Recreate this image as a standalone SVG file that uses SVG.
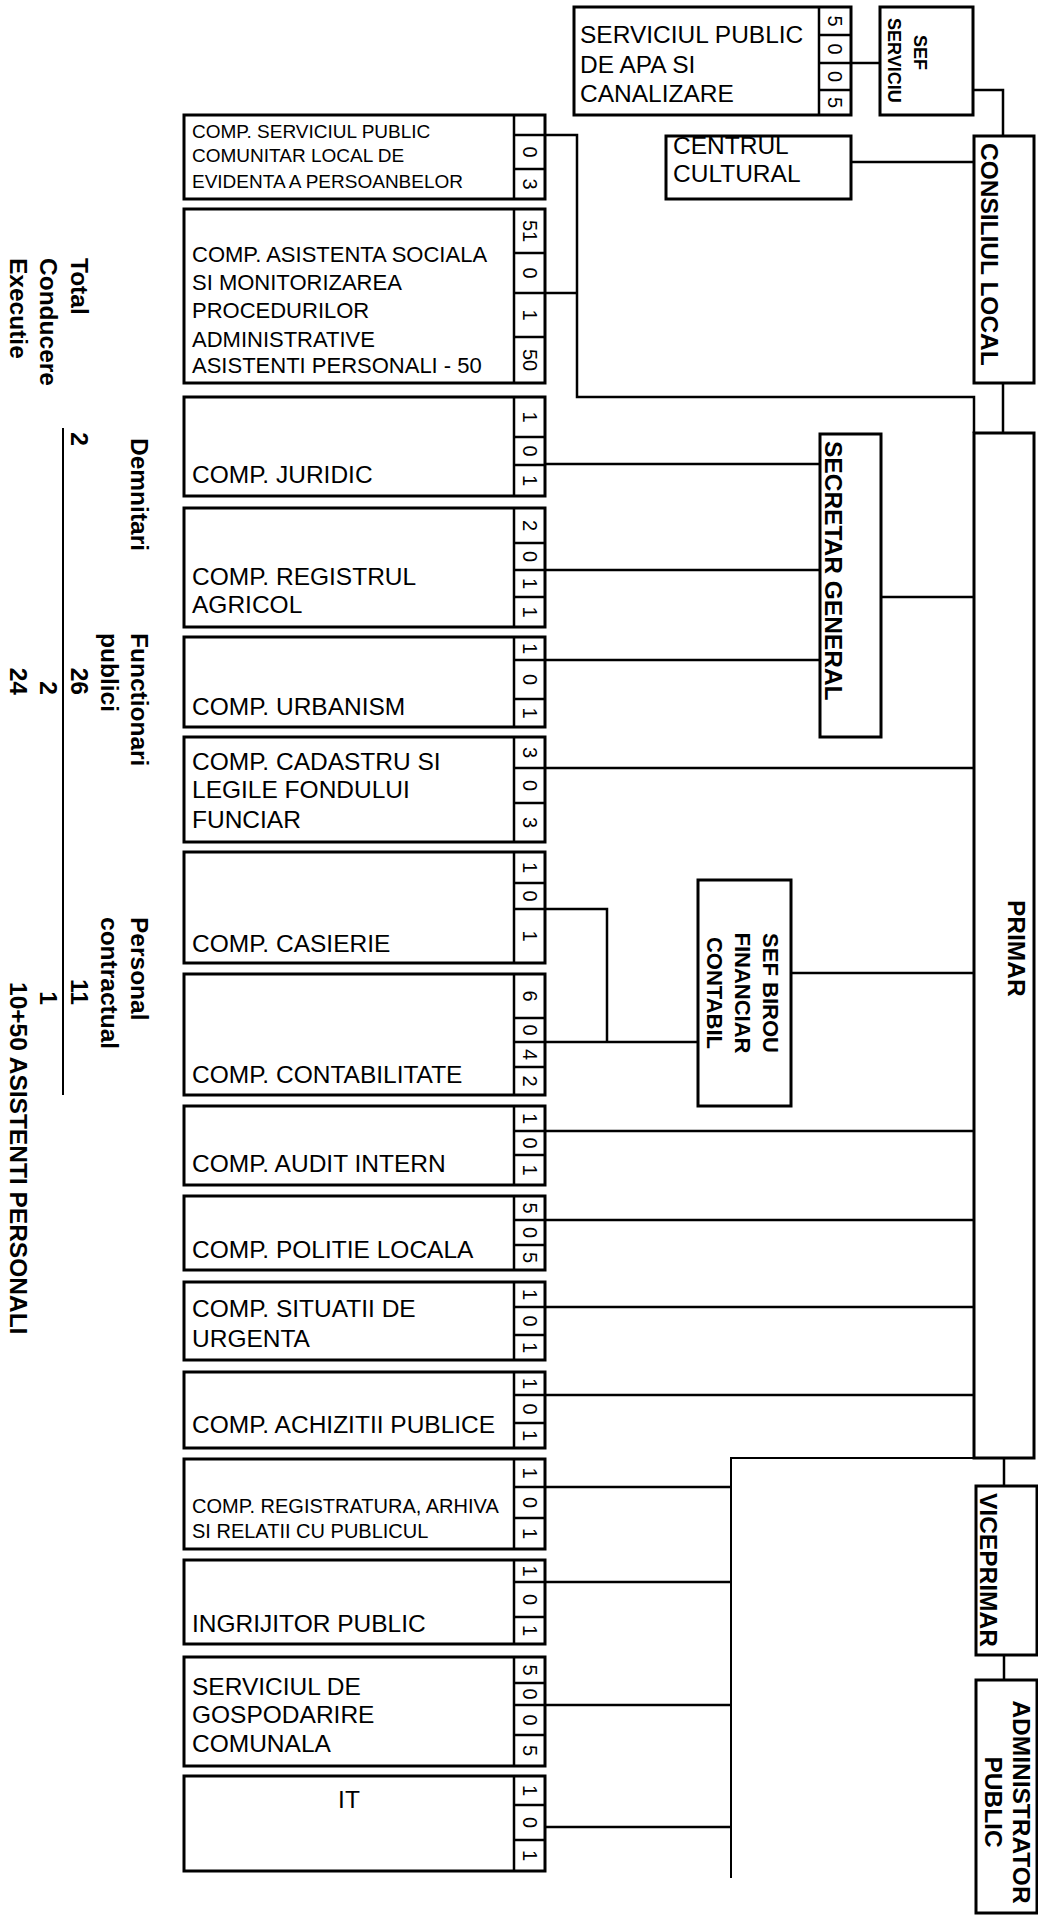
<svg xmlns="http://www.w3.org/2000/svg" width="1038" height="1917" viewBox="0 0 1038 1917">
<style>
.bx{fill:#fff;stroke:#000;stroke-width:3}
.ln{fill:none;stroke:#000;stroke-width:2.5}
.cn{fill:none;stroke:#000;stroke-width:2.5}
.t{font-family:"Liberation Sans",Arial,sans-serif;font-size:24.5px;fill:#000}
.s19{font-size:19px}
.s20{font-size:20px}
.s22{font-size:22px}
.b{font-weight:bold}
.d{font-family:"Liberation Sans",Arial,sans-serif;font-size:20px;fill:#000;text-anchor:middle}
.m{text-anchor:middle}
.e{text-anchor:end}
</style>
<rect width="1038" height="1917" fill="#fff"/>

<g id="connectors">
<path class="cn" d="M851,63 H880"/>
<path class="cn" d="M973,90 H1003 V136"/>
<path class="cn" d="M851,162 H974"/>
<path class="cn" d="M1003,383 V433"/>
<path class="cn" d="M545,135 H577 V397 H974 V433"/>
<path class="cn" d="M545,293 H577"/>
<path class="cn" d="M545,464 H820"/>
<path class="cn" d="M545,570 H820"/>
<path class="cn" d="M545,660 H820"/>
<path class="cn" d="M881,597 H974"/>
<path class="cn" d="M545,768 H974"/>
<path class="cn" d="M545,909 H607 V1042"/>
<path class="cn" d="M545,1042 H698"/>
<path class="cn" d="M791,973 H974"/>
<path class="cn" d="M545,1131 H974"/>
<path class="cn" d="M545,1220 H974"/>
<path class="cn" d="M545,1307 H974"/>
<path class="cn" d="M545,1395 H974"/>
<path class="cn" d="M974,1458 H731 V1878" style="stroke-width:2"/>
<path class="cn" d="M545,1487 H731"/>
<path class="cn" d="M545,1582 H731"/>
<path class="cn" d="M545,1705 H731"/>
<path class="cn" d="M545,1827 H731"/>
<path class="cn" d="M1004,1458 V1486"/>
<path class="cn" d="M1004,1655 V1680"/>
</g>

<g id="serviciul-apa">
<rect class="bx" x="574" y="7" width="277" height="108"/>
<path class="ln" d="M819,7 V115 M819,35 H851 M819,63 H851 M819,90 H851"/>
<text class="t" x="580" y="43">SERVICIUL PUBLIC</text>
<text class="t" x="580" y="73">DE APA SI</text>
<text class="t" x="580" y="102">CANALIZARE</text>
<text class="d" transform="translate(835,21) rotate(90)" dy="7">5</text>
<text class="d" transform="translate(835,49) rotate(90)" dy="7">0</text>
<text class="d" transform="translate(835,76.5) rotate(90)" dy="7">0</text>
<text class="d" transform="translate(835,102.5) rotate(90)" dy="7">5</text>
</g>

<g id="sef-serviciu">
<rect class="bx" x="880" y="7" width="93" height="108"/>
<text class="t b" style="font-size:18px" transform="translate(914,35) rotate(90)">SEF</text>
<text class="t b" style="font-size:18px" transform="translate(888,18) rotate(90)">SERVICIU</text>
</g>

<g id="centrul-cultural">
<rect class="bx" x="666" y="136" width="185" height="63"/>
<text class="t" x="673" y="154">CENTRUL</text>
<text class="t" x="673" y="182">CULTURAL</text>
</g>

<g id="consiliul-local">
<rect class="bx" x="974" y="136" width="60" height="247"/>
<text class="t b" transform="translate(981,143) rotate(90)">CONSILIUL LOCAL</text>
</g>

<g id="primar">
<rect class="bx" x="974" y="433" width="60" height="1025"/>
<text class="t b" transform="translate(1008,900) rotate(90)">PRIMAR</text>
</g>

<g id="secretar-general">
<rect class="bx" x="820" y="434" width="61" height="303"/>
<text class="t b" transform="translate(825,441) rotate(90)">SECRETAR GENERAL</text>
</g>

<g id="sef-birou">
<rect class="bx" x="698" y="880" width="93" height="226"/>
<text class="t b s22 m" transform="translate(763,993) rotate(90)">SEF BIROU</text>
<text class="t b s22 m" transform="translate(735,993) rotate(90)">FINANCIAR</text>
<text class="t b s22 m" transform="translate(707,993) rotate(90)">CONTABIL</text>
</g>

<g id="viceprimar">
<rect class="bx" x="976" y="1486" width="61" height="169"/>
<text class="t b" transform="translate(980,1493) rotate(90)">VICEPRIMAR</text>
</g>

<g id="administrator-public">
<rect class="bx" x="976" y="1680" width="61" height="233"/>
<text class="t b m" transform="translate(1013,1802) rotate(90)">ADMINISTRATOR</text>
<text class="t b m" transform="translate(985,1802) rotate(90)">PUBLIC</text>
</g>

<g id="comp-evidenta">
<rect class="bx" x="184" y="115" width="361" height="84"/>
<path class="ln" d="M514,115 V199 M514,135 H545 M514,169 H545"/>
<text class="t s19" x="192" y="138">COMP. SERVICIUL PUBLIC</text>
<text class="t s19" x="192" y="162">COMUNITAR LOCAL DE</text>
<text class="t s19" x="192" y="188">EVIDENTA A PERSOANBELOR</text>
<text class="d" transform="translate(529.5,152) rotate(90)" dy="7">0</text>
<text class="d" transform="translate(529.5,184) rotate(90)" dy="7">3</text>
</g>

<g id="comp-asistenta">
<rect class="bx" x="184" y="209" width="361" height="174"/>
<path class="ln" d="M514,209 V383 M514,253 H545 M514,293 H545 M514,337 H545"/>
<text class="t s22" x="192" y="262">COMP. ASISTENTA SOCIALA</text>
<text class="t s22" x="192" y="290">SI MONITORIZAREA</text>
<text class="t s22" x="192" y="318">PROCEDURILOR</text>
<text class="t s22" x="192" y="347">ADMINISTRATIVE</text>
<text class="t s22" x="192" y="373">ASISTENTI PERSONALI - 50</text>
<text class="d" transform="translate(529.5,231) rotate(90)" dy="7">51</text>
<text class="d" transform="translate(529.5,273) rotate(90)" dy="7">0</text>
<text class="d" transform="translate(529.5,315) rotate(90)" dy="7">1</text>
<text class="d" transform="translate(529.5,360) rotate(90)" dy="7">50</text>
</g>

<g id="comp-juridic">
<rect class="bx" x="184" y="397" width="361" height="99"/>
<path class="ln" d="M514,397 V496 M514,437 H545 M514,465 H545"/>
<text class="t" x="192" y="483">COMP. JURIDIC</text>
<text class="d" transform="translate(529.5,417) rotate(90)" dy="7">1</text>
<text class="d" transform="translate(529.5,451) rotate(90)" dy="7">0</text>
<text class="d" transform="translate(529.5,480.5) rotate(90)" dy="7">1</text>
</g>

<g id="comp-registrul-agricol">
<rect class="bx" x="184" y="508" width="361" height="119"/>
<path class="ln" d="M514,508 V627 M514,543 H545 M514,570 H545 M514,597 H545"/>
<text class="t" x="192" y="585">COMP. REGISTRUL</text>
<text class="t" x="192" y="613">AGRICOL</text>
<text class="d" transform="translate(529.5,525.5) rotate(90)" dy="7">2</text>
<text class="d" transform="translate(529.5,556.5) rotate(90)" dy="7">0</text>
<text class="d" transform="translate(529.5,583.5) rotate(90)" dy="7">1</text>
<text class="d" transform="translate(529.5,612) rotate(90)" dy="7">1</text>
</g>

<g id="comp-urbanism">
<rect class="bx" x="184" y="637" width="361" height="90"/>
<path class="ln" d="M514,637 V727 M514,660 H545 M514,699 H545"/>
<text class="t" x="192" y="715">COMP. URBANISM</text>
<text class="d" transform="translate(529.5,648.5) rotate(90)" dy="7">1</text>
<text class="d" transform="translate(529.5,679.5) rotate(90)" dy="7">0</text>
<text class="d" transform="translate(529.5,713) rotate(90)" dy="7">1</text>
</g>

<g id="comp-cadastru">
<rect class="bx" x="184" y="737" width="361" height="105"/>
<path class="ln" d="M514,737 V842 M514,768 H545 M514,803 H545"/>
<text class="t" x="192" y="770">COMP. CADASTRU SI</text>
<text class="t" x="192" y="798">LEGILE FONDULUI</text>
<text class="t" x="192" y="828">FUNCIAR</text>
<text class="d" transform="translate(529.5,752.5) rotate(90)" dy="7">3</text>
<text class="d" transform="translate(529.5,785.5) rotate(90)" dy="7">0</text>
<text class="d" transform="translate(529.5,822.5) rotate(90)" dy="7">3</text>
</g>

<g id="comp-casierie">
<rect class="bx" x="184" y="852" width="361" height="111"/>
<path class="ln" d="M514,852 V963 M514,883 H545 M514,909 H545"/>
<text class="t" x="192" y="952">COMP. CASIERIE</text>
<text class="d" transform="translate(529.5,867.5) rotate(90)" dy="7">1</text>
<text class="d" transform="translate(529.5,896) rotate(90)" dy="7">0</text>
<text class="d" transform="translate(529.5,936) rotate(90)" dy="7">1</text>
</g>

<g id="comp-contabilitate">
<rect class="bx" x="184" y="974" width="361" height="121"/>
<path class="ln" d="M514,974 V1095 M514,1018 H545 M514,1042 H545 M514,1067 H545"/>
<text class="t" x="192" y="1083">COMP. CONTABILITATE</text>
<text class="d" transform="translate(529.5,996) rotate(90)" dy="7">6</text>
<text class="d" transform="translate(529.5,1030) rotate(90)" dy="7">0</text>
<text class="d" transform="translate(529.5,1054.5) rotate(90)" dy="7">4</text>
<text class="d" transform="translate(529.5,1081) rotate(90)" dy="7">2</text>
</g>

<g id="comp-audit">
<rect class="bx" x="184" y="1106" width="361" height="79"/>
<path class="ln" d="M514,1106 V1185 M514,1131 H545 M514,1155 H545"/>
<text class="t" x="192" y="1172">COMP. AUDIT INTERN</text>
<text class="d" transform="translate(529.5,1118.5) rotate(90)" dy="7">1</text>
<text class="d" transform="translate(529.5,1143) rotate(90)" dy="7">0</text>
<text class="d" transform="translate(529.5,1170) rotate(90)" dy="7">1</text>
</g>

<g id="comp-politie">
<rect class="bx" x="184" y="1196" width="361" height="74"/>
<path class="ln" d="M514,1196 V1270 M514,1220 H545 M514,1245 H545"/>
<text class="t" x="192" y="1258">COMP. POLITIE LOCALA</text>
<text class="d" transform="translate(529.5,1208) rotate(90)" dy="7">5</text>
<text class="d" transform="translate(529.5,1232.5) rotate(90)" dy="7">0</text>
<text class="d" transform="translate(529.5,1257.5) rotate(90)" dy="7">5</text>
</g>

<g id="comp-situatii">
<rect class="bx" x="184" y="1282" width="361" height="78"/>
<path class="ln" d="M514,1282 V1360 M514,1307 H545 M514,1335 H545"/>
<text class="t" x="192" y="1317">COMP. SITUATII DE</text>
<text class="t" x="192" y="1347">URGENTA</text>
<text class="d" transform="translate(529.5,1294.5) rotate(90)" dy="7">1</text>
<text class="d" transform="translate(529.5,1321) rotate(90)" dy="7">0</text>
<text class="d" transform="translate(529.5,1347.5) rotate(90)" dy="7">1</text>
</g>

<g id="comp-achizitii">
<rect class="bx" x="184" y="1372" width="361" height="76"/>
<path class="ln" d="M514,1372 V1448 M514,1395 H545 M514,1423 H545"/>
<text class="t" x="192" y="1433">COMP. ACHIZITII PUBLICE</text>
<text class="d" transform="translate(529.5,1383.5) rotate(90)" dy="7">1</text>
<text class="d" transform="translate(529.5,1409) rotate(90)" dy="7">0</text>
<text class="d" transform="translate(529.5,1435.5) rotate(90)" dy="7">1</text>
</g>

<g id="comp-registratura">
<rect class="bx" x="184" y="1459" width="361" height="90"/>
<path class="ln" d="M514,1459 V1549 M514,1487 H545 M514,1518 H545"/>
<text class="t s20" x="192" y="1513">COMP. REGISTRATURA, ARHIVA</text>
<text class="t s20" x="192" y="1538">SI RELATII CU PUBLICUL</text>
<text class="d" transform="translate(529.5,1473) rotate(90)" dy="7">1</text>
<text class="d" transform="translate(529.5,1502.5) rotate(90)" dy="7">0</text>
<text class="d" transform="translate(529.5,1533.5) rotate(90)" dy="7">1</text>
</g>

<g id="ingrijitor-public">
<rect class="bx" x="184" y="1560" width="361" height="84"/>
<path class="ln" d="M514,1560 V1644 M514,1582 H545 M514,1617 H545"/>
<text class="t" x="192" y="1632">INGRIJITOR PUBLIC</text>
<text class="d" transform="translate(529.5,1571) rotate(90)" dy="7">1</text>
<text class="d" transform="translate(529.5,1599.5) rotate(90)" dy="7">0</text>
<text class="d" transform="translate(529.5,1630.5) rotate(90)" dy="7">1</text>
</g>

<g id="serviciul-gospodarire">
<rect class="bx" x="184" y="1657" width="361" height="109"/>
<path class="ln" d="M514,1657 V1766 M514,1683 H545 M514,1705 H545 M514,1735 H545"/>
<text class="t" x="192" y="1695">SERVICIUL DE</text>
<text class="t" x="192" y="1723">GOSPODARIRE</text>
<text class="t" x="192" y="1752">COMUNALA</text>
<text class="d" transform="translate(529.5,1670) rotate(90)" dy="7">5</text>
<text class="d" transform="translate(529.5,1694) rotate(90)" dy="7">0</text>
<text class="d" transform="translate(529.5,1720) rotate(90)" dy="7">0</text>
<text class="d" transform="translate(529.5,1750.5) rotate(90)" dy="7">5</text>
</g>

<g id="it">
<rect class="bx" x="184" y="1776" width="361" height="95"/>
<path class="ln" d="M514,1776 V1871 M514,1805 H545 M514,1840 H545"/>
<text class="t m" x="349" y="1808">IT</text>
<text class="d" transform="translate(529.5,1790.5) rotate(90)" dy="7">1</text>
<text class="d" transform="translate(529.5,1822.5) rotate(90)" dy="7">0</text>
<text class="d" transform="translate(529.5,1855.5) rotate(90)" dy="7">1</text>
</g>

<g id="summary">
<line x1="63" y1="428" x2="63" y2="1095" stroke="#000" stroke-width="2"/>
<text class="t b" transform="translate(71,258) rotate(90)">Total</text>
<text class="t b" transform="translate(40,258) rotate(90)">Conducere</text>
<text class="t b" transform="translate(10,258) rotate(90)">Executie</text>
<text class="t b" transform="translate(131,438) rotate(90)">Demnitari</text>
<text class="t b e" transform="translate(71,446) rotate(90)">2</text>
<text class="t b" transform="translate(131,633) rotate(90)">Functionari</text>
<text class="t b" transform="translate(101,633) rotate(90)">publici</text>
<text class="t b e" transform="translate(71,695) rotate(90)">26</text>
<text class="t b e" transform="translate(40,695) rotate(90)">2</text>
<text class="t b e" transform="translate(10,695) rotate(90)">24</text>
<text class="t b" transform="translate(131,917) rotate(90)">Personal</text>
<text class="t b" transform="translate(101,917) rotate(90)">contractual</text>
<text class="t b e" transform="translate(71,1005) rotate(90)">11</text>
<text class="t b e" transform="translate(40,1005) rotate(90)">1</text>
<text class="t b" transform="translate(10,982) rotate(90)">10+50 ASISTENTI PERSONALI</text>
</g>
</svg>
